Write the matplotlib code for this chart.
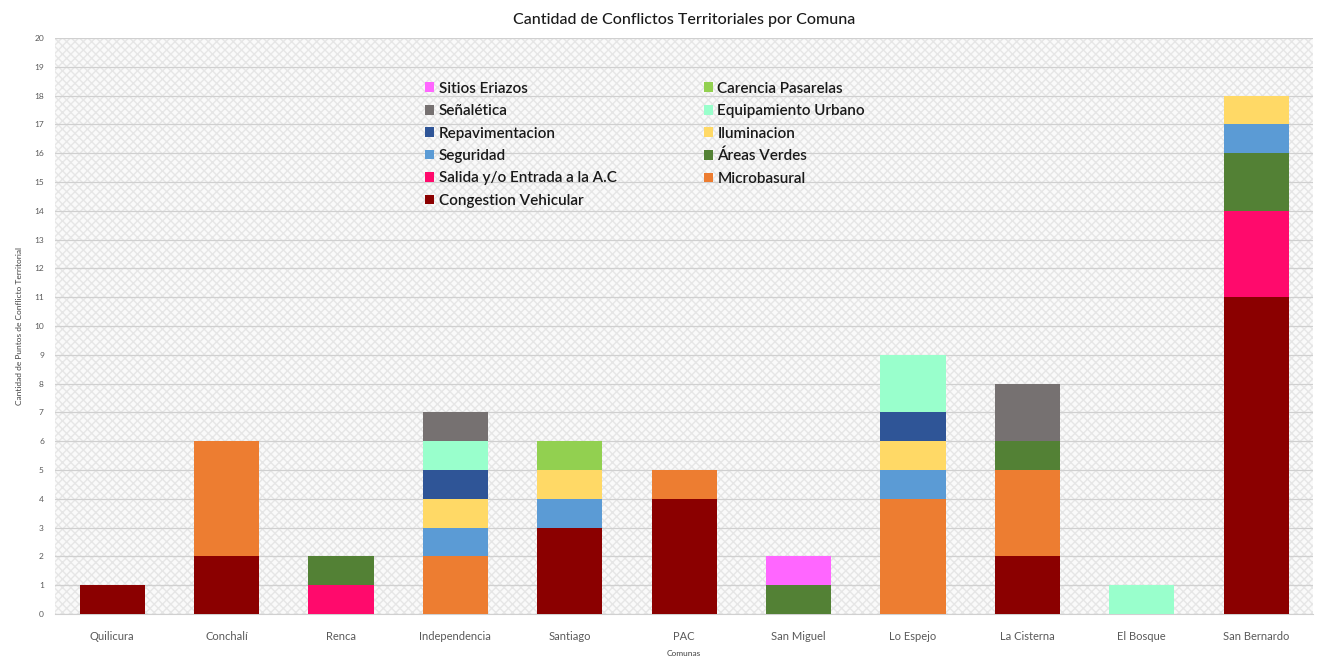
import matplotlib.pyplot as plt
import matplotlib.patches as mpatches
import numpy as np

plt.rcParams['font.family'] = ['Lato', 'DejaVu Sans']

comunas = ["Quilicura", "Conchalí", "Renca", "Independencia", "Santiago", "PAC",
           "San Miguel", "Lo Espejo", "La Cisterna", "El Bosque", "San Bernardo"]

# series, bottom to top of each stack
congestion   = [1, 2, 0, 0, 3, 4, 0, 0, 2, 0, 11]
microbasural = [0, 4, 0, 2, 0, 1, 0, 4, 3, 0, 0]
salida       = [0, 0, 1, 0, 0, 0, 0, 0, 0, 0, 3]
areas_verdes = [0, 0, 1, 0, 0, 0, 1, 0, 1, 0, 2]
seguridad    = [0, 0, 0, 1, 1, 0, 0, 1, 0, 0, 1]
iluminacion  = [0, 0, 0, 1, 1, 0, 0, 1, 0, 0, 1]
repav        = [0, 0, 0, 1, 0, 0, 0, 1, 0, 0, 0]
equipamiento = [0, 0, 0, 1, 0, 0, 0, 2, 0, 1, 0]
senaletica   = [0, 0, 0, 1, 0, 0, 0, 0, 2, 0, 0]
pasarelas    = [0, 0, 0, 0, 1, 0, 0, 0, 0, 0, 0]
eriazos      = [0, 0, 0, 0, 0, 0, 1, 0, 0, 0, 0]

series = [
    ("Congestion Vehicular", congestion, "#8B0000"),
    ("Microbasural", microbasural, "#ED7D31"),
    ("Salida y/o Entrada a la A.C", salida, "#FF0A6C"),
    ("Áreas Verdes", areas_verdes, "#538135"),
    ("Seguridad", seguridad, "#5B9BD5"),
    ("Iluminacion", iluminacion, "#FFD966"),
    ("Repavimentacion", repav, "#2F5597"),
    ("Equipamiento Urbano", equipamiento, "#99FFCC"),
    ("Señalética", senaletica, "#767171"),
    ("Carencia Pasarelas", pasarelas, "#92D050"),
    ("Sitios Eriazos", eriazos, "#FF66FF"),
]

fig = plt.figure(figsize=(13.19, 6.59), dpi=100)
ax = fig.add_axes([0.0417, 0.0683, 0.954, 0.874])

x = np.arange(len(comunas))
bottom = np.zeros(len(comunas))
handles = []
for name, vals, col in series:
    vals = np.array(vals, dtype=float)
    b = ax.bar(x, vals, bottom=bottom, width=0.57, color=col, label=name, zorder=3)
    handles.append(b)
    bottom += vals

ax.set_xlim(-0.5, len(comunas) - 0.5)
ax.set_ylim(0, 20)
ax.set_yticks(range(0, 21))

# hatched plot background
bg = mpatches.Rectangle((0, 0), 1, 1, transform=ax.transAxes, facecolor="#FAFAFA",
                        edgecolor="#E6E6E6", hatch="xxxx", linewidth=0, zorder=0)
ax.add_patch(bg)
ax.set_facecolor("white")
ax.grid(axis="y", color="#D0D0D0", linewidth=0.9, zorder=1)
for s in ax.spines.values():
    s.set_visible(False)
ax.spines["bottom"].set_visible(True)
ax.spines["bottom"].set_color("#D0D0D0")
ax.tick_params(axis="both", length=0, colors="#595959")
ax.tick_params(axis="y", labelsize=6, pad=8)
ax.tick_params(axis="x", pad=12)
ax.set_xticks(x)
ax.set_xticklabels(comunas, fontsize=8)

ax.set_ylabel("Cantidad de Puntos de Conflicto Territorial", fontsize=6, color="#404040", labelpad=8)
ax.set_xlabel("Comunas", fontsize=6, color="#404040", labelpad=6)
ax.set_title("Cantidad de Conflictos Territoriales por Comuna", fontsize=11.5,
             color="#1a1a1a", fontweight="medium", pad=10)

# legend laid out row-wise like the original (reverse series order)
rev = handles[::-1]
order = rev[0::2] + rev[1::2]
leg = ax.legend(order, [h.get_label() for h in order], ncol=2, loc="upper left",
                bbox_to_anchor=(0.283, 0.948), frameon=False, fontsize=11,
                handlelength=0.6, handleheight=0.6, handletextpad=0.3,
                labelspacing=0.55, columnspacing=5.7)
for t in leg.get_texts():
    t.set_fontweight("semibold")
    t.set_color("#1a1a1a")

fig.savefig("out.png", dpi=100)
